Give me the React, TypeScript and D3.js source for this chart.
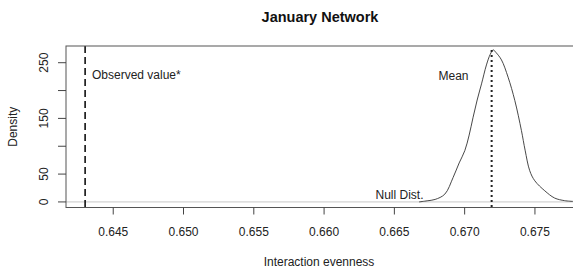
import { useEffect, useRef } from "react";
import * as d3 from "d3";

// Null distribution density curve
const nullX = [
  0.66676, 0.66733, 0.6679, 0.66859, 0.66918, 0.66961, 0.67001, 0.67032,
  0.6706, 0.67089, 0.6712, 0.67155, 0.67182, 0.67203, 0.67224, 0.67262,
  0.67309, 0.67357, 0.67404, 0.6743, 0.67463, 0.67499, 0.6757, 0.6764,
  0.67711, 0.6777,
];
const nullDensity = [
  0, 2, 4.5, 14, 44, 70, 92, 120, 152, 183, 212, 246, 265, 273, 268, 255, 224,
  182, 128, 93, 56, 38, 20, 7, 2.3, 1,
];

const observedValue = 0.643;
const meanValue = 0.67192;

const xTicks = [0.645, 0.65, 0.655, 0.66, 0.665, 0.67, 0.675];
const yTicks = [0, 50, 100, 150, 200, 250];
const yTickLabels = ["0", "50", "", "150", "", "250"];

export default function App() {
  const ref = useRef<SVGSVGElement>(null);

  useEffect(() => {
    if (!ref.current) return;
    const svg = d3.select(ref.current);
    svg.selectAll("*").remove();

    const left = 66;
    const right = 575;
    const top = 46;
    const bottom = 207.5;
    const font = "'Liberation Sans', Arial, Helvetica, sans-serif";

    const x = d3.scaleLinear().domain([0.64164, 0.67785]).range([left, right]);
    const y = d3.scaleLinear().domain([-10, 280]).range([bottom, top]);

    // title
    svg
      .append("text")
      .attr("x", 320)
      .attr("y", 22)
      .attr("text-anchor", "middle")
      .style("font-family", font)
      .style("font-size", "14.5px")
      .style("font-weight", "bold")
      .attr("fill", "#111")
      .text("January Network");

    // zero line
    svg
      .append("line")
      .attr("x1", left)
      .attr("x2", right)
      .attr("y1", y(0))
      .attr("y2", y(0))
      .attr("stroke", "#c8c8c8")
      .attr("stroke-width", 1);

    // density curve
    const line = d3
      .line<number>()
      .x((_, i) => x(nullX[i]))
      .y((d) => y(d))
      .curve(d3.curveCatmullRom.alpha(0.5));
    svg
      .append("path")
      .attr("d", line(nullDensity))
      .attr("fill", "none")
      .attr("stroke", "#333")
      .attr("stroke-width", 0.9);

    // observed value line
    svg
      .append("line")
      .attr("x1", x(observedValue))
      .attr("x2", x(observedValue))
      .attr("y1", top)
      .attr("y2", bottom)
      .attr("stroke", "#111")
      .attr("stroke-width", 1.6)
      .attr("stroke-dasharray", "7,4");

    // mean line
    svg
      .append("line")
      .attr("x1", x(meanValue))
      .attr("x2", x(meanValue))
      .attr("y1", y(d3.max(nullDensity)!))
      .attr("y2", bottom)
      .attr("stroke", "#222")
      .attr("stroke-width", 2)
      .attr("stroke-dasharray", "2,3");

    // box
    svg
      .append("rect")
      .attr("x", left)
      .attr("y", top)
      .attr("width", right - left)
      .attr("height", bottom - top)
      .attr("fill", "none")
      .attr("stroke", "#555")
      .attr("stroke-width", 1);

    // x axis
    const gx = svg.append("g");
    xTicks.forEach((t) => {
      gx.append("line")
        .attr("x1", x(t))
        .attr("x2", x(t))
        .attr("y1", bottom)
        .attr("y2", bottom + 7)
        .attr("stroke", "#444");
      gx.append("text")
        .attr("x", x(t))
        .attr("y", 235.5)
        .attr("text-anchor", "middle")
        .style("font-family", font)
        .style("font-size", "12px")
        .attr("fill", "#222")
        .text(d3.format(".3f")(t));
    });

    // y axis
    const gy = svg.append("g");
    yTicks.forEach((t, i) => {
      gy.append("line")
        .attr("x1", left - 8)
        .attr("x2", left)
        .attr("y1", y(t))
        .attr("y2", y(t))
        .attr("stroke", "#444");
      if (yTickLabels[i])
        gy.append("text")
          .attr("transform", `translate(48,${y(t)}) rotate(-90)`)
          .attr("text-anchor", "middle")
          .style("font-family", font)
          .style("font-size", "12px")
          .attr("fill", "#222")
          .text(yTickLabels[i]);
    });

    // axis titles
    svg
      .append("text")
      .attr("x", 319)
      .attr("y", 266)
      .attr("text-anchor", "middle")
      .style("font-family", font)
      .style("font-size", "12px")
      .attr("fill", "#222")
      .text("Interaction evenness");
    svg
      .append("text")
      .attr("transform", `translate(17,${(top + bottom) / 2}) rotate(-90)`)
      .attr("text-anchor", "middle")
      .style("font-family", font)
      .style("font-size", "12px")
      .attr("fill", "#222")
      .text("Density");

    // annotations
    svg
      .append("text")
      .attr("x", 92)
      .attr("y", 79)
      .style("font-family", font)
      .style("font-size", "12px")
      .attr("fill", "#222")
      .text("Observed value*");
    svg
      .append("text")
      .attr("x", 468.5)
      .attr("y", 79.5)
      .attr("text-anchor", "end")
      .style("font-family", font)
      .style("font-size", "12px")
      .attr("fill", "#222")
      .text("Mean");
    svg
      .append("text")
      .attr("x", 423.5)
      .attr("y", 198.5)
      .attr("text-anchor", "end")
      .style("font-family", font)
      .style("font-size", "12px")
      .attr("fill", "#222")
      .text("Null Dist.");
  }, []);

  return (
    <svg
      ref={ref}
      width={573}
      height={273}
      style={{ position: "absolute", left: 0, top: 0, background: "#fff" }}
    />
  );
}
